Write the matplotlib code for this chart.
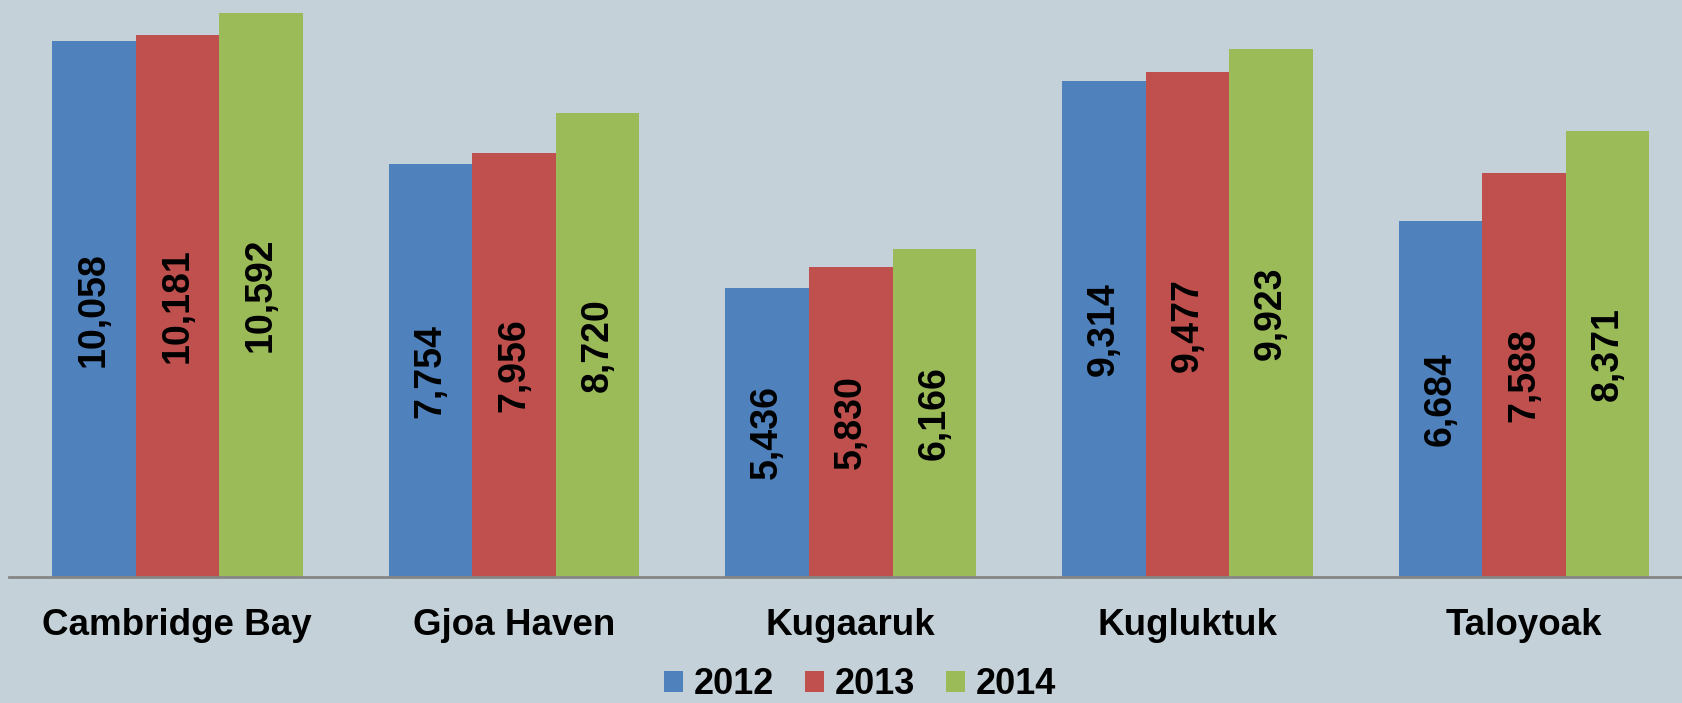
import matplotlib
matplotlib.use("Agg")
import matplotlib.pyplot as plt
import numpy as np
from matplotlib.patches import Patch

categories = ["Cambridge Bay", "Gjoa Haven", "Kugaaruk", "Kugluktuk", "Taloyoak"]
years = ["2012", "2013", "2014"]
v2012 = [10058, 7754, 5436, 9314, 6684]
v2013 = [10181, 7956, 5830, 9477, 7588]
v2014 = [10592, 8720, 6166, 9923, 8371]
colors = ["#4F81BD", "#C0504D", "#9BBB59"]
bg = "#C5D1D8"

plt.rcParams['font.family'] = ['Liberation Sans', 'DejaVu Sans']

W, H = 1683, 703
fig = plt.figure(figsize=(W/100, H/100), dpi=100, facecolor=bg)
ax = fig.add_axes([9/W, (H-577)/H, 1683.5/W, 577/H])
ax.set_facecolor(bg)

x = np.arange(len(categories))
bw = 0.248
series = [v2012, v2013, v2014]
for i, (vals, c) in enumerate(zip(series, colors)):
    xs = x + (i-1)*bw
    ax.bar(xs, vals, width=bw, color=c, edgecolor='none', zorder=2)
    for xi, v in zip(xs, vals):
        ax.text(xi, v/2, f"{v:,}", rotation=90, ha='center', va='center',
                fontsize=27, fontweight='bold', color='black', zorder=3)

ax.set_xlim(-0.5, 4.5)
ax.set_ylim(0, 577/0.05325)
ax.set_yticks([])
ax.set_xticks(x)
ax.set_xticklabels(categories, fontsize=26.5, fontweight='bold')
ax.tick_params(axis='x', length=0, pad=22)
for s in ['top', 'right', 'left']:
    ax.spines[s].set_visible(False)
ax.spines['bottom'].set_color('#868686')
ax.spines['bottom'].set_linewidth(2)

handles = [Patch(facecolor=c, edgecolor='none') for c in colors]
fig.legend(handles, years, loc='center', bbox_to_anchor=(860/W, 18/H),
           ncol=3, frameon=False, prop={'size': 26, 'weight': 'bold'},
           handlelength=0.53, handleheight=0.53, handletextpad=0.3,
           columnspacing=0.85, borderpad=0, borderaxespad=0)

fig.savefig("out.png", dpi=100, facecolor=bg)
